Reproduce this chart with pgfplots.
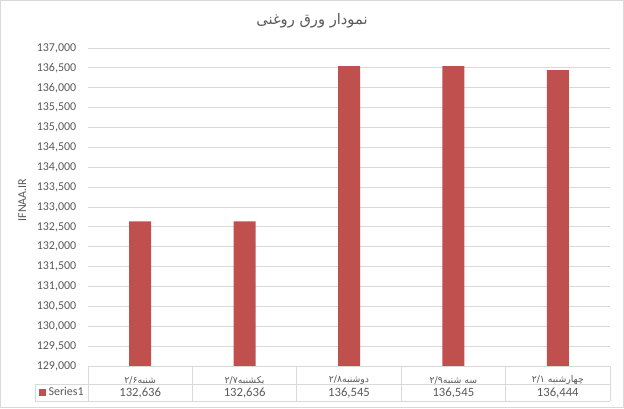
\documentclass[border=0pt]{standalone}
\usepackage{pgfplots}
\pgfplotsset{compat=1.18}
\usepackage{fontspec}
\setmainfont{Carlito}
\newfontfamily\arabicfont[Script=Arabic]{DejaVu Sans}
\TeXXeTstate=1
\definecolor{barred}{HTML}{C0504D}
\definecolor{txtgray}{HTML}{595959}
\definecolor{gridgray}{HTML}{D9D9D9}

\begin{document}
\begin{tikzpicture}
% chart frame, 624x408 px at 0.75pt per px
\useasboundingbox (0,0) rectangle (468pt,-306pt);
\draw[gridgray, line width=0.75pt] (0.4pt,-0.4pt) rectangle (467.6pt,-305.6pt);

\node[txtgray, font=\arabicfont\fontsize{11}{13}\selectfont] at (234pt,-15.5pt) {\beginR نمودار ورق روغنی\endR};

\begin{axis}[
    at={(66pt,-274.5pt)}, anchor=south west,
    scale only axis, width=391.5pt, height=238.5pt,
    ybar, bar width=16.5pt, bar shift=0pt,
    xmin=-0.5, xmax=4.5,
    ymin=129000, ymax=137000,
    ytick={129000,129500,...,137000},
    scaled y ticks=false,
    xtick={0,1,2,3,4},
    xticklabels={
        {۲/۶\beginR شنبه\endR},
        {۲/۷\beginR یکشنبه\endR},
        {۲/۸\beginR دوشنبه\endR},
        {۲/۹\beginR سه شنبه\endR},
        {۲/۱ \beginR چهارشنبه\endR}},
    xticklabel style={anchor=center, yshift=-6.5pt, font=\arabicfont\fontsize{7}{8}\selectfont, text=txtgray},
    yticklabel style={xshift=-5.25pt, font=\fontsize{9}{11}\selectfont, text=txtgray,
        /pgf/number format/.cd, fixed, precision=0, 1000 sep={,}, assume math mode=true},
    major tick style={draw=none},
    axis line style={draw=none},
    ymajorgrids, major grid style={gridgray, line width=0.75pt},
    ylabel={IFNAA.IR},
    ylabel style={at={(axis description cs:-0.126,0.522)}, anchor=center, rotate=0,
        font=\fontsize{9}{11}\selectfont, text=txtgray},
    legend style={at={(axis description cs:-0.094,-0.0833)}, anchor=west,
        draw=none, fill=none, font=\fontsize{9}{11}\selectfont, text=txtgray,
        inner sep=0pt, legend cell align=left},
    legend image code/.code={\fill[barred] (0pt,-2.5pt) rectangle (5pt,2.5pt);},
    clip=false,
]
\addplot[fill=barred, draw=none] coordinates {
    (0,132636) (1,132636) (2,136545) (3,136545) (4,136444)
};
\addlegendentry{Series1}
\end{axis}

% data table
\begin{scope}[gridgray, line width=0.75pt]
\draw (66pt,-274.5pt) -- (457.5pt,-274.5pt);
\draw (26.25pt,-288pt) -- (457.5pt,-288pt);
\draw (26.25pt,-300.75pt) -- (457.5pt,-300.75pt);
\draw (26.25pt,-288pt) -- (26.25pt,-300.75pt);
\foreach \x in {66,144.3,222.6,300.9,379.2,457.5}
  \draw (\x pt,-274.5pt) -- (\x pt,-300.75pt);
\end{scope}
\begin{scope}[every node/.style={text=txtgray, font=\fontsize{9.5}{11}\selectfont}]
\node at (105.15pt,-294.4pt) {132,636};
\node at (183.45pt,-294.4pt) {132,636};
\node at (261.75pt,-294.4pt) {136,545};
\node at (340.05pt,-294.4pt) {136,545};
\node at (418.35pt,-294.4pt) {136,444};
\end{scope}
\end{tikzpicture}
\end{document}
